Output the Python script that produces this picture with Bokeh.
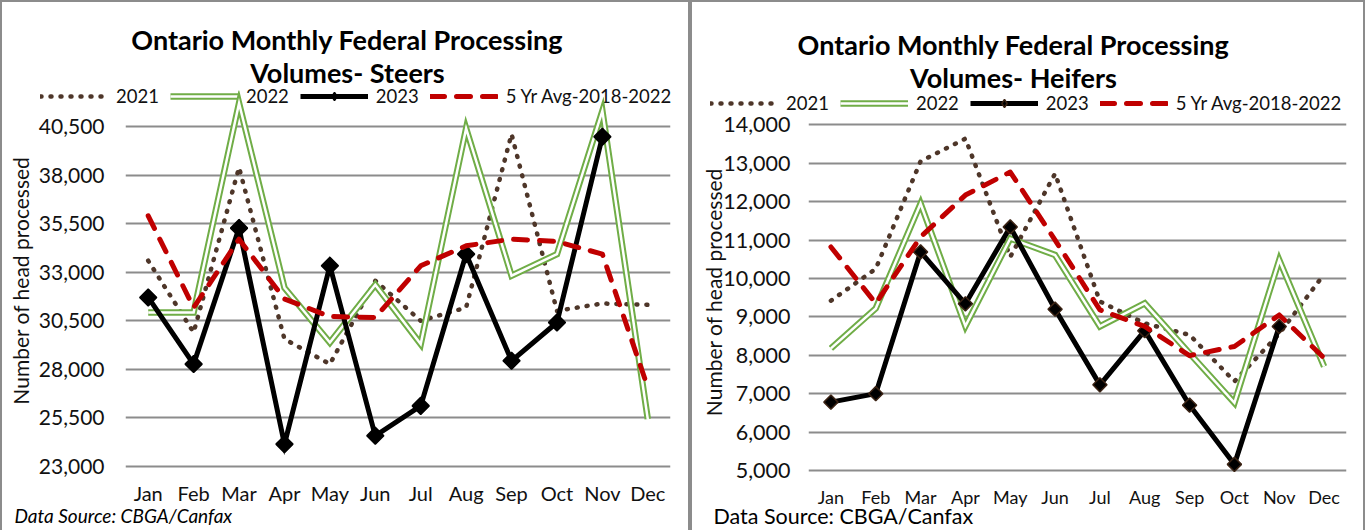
import numpy as np
from bokeh.plotting import figure
from bokeh.models import (ColumnDataSource, FactorRange, Range1d, FixedTicker,
                          NumeralTickFormatter, Legend, LegendItem, Label)
from bokeh.embed import file_html
from bokeh.resources import INLINE

# ---------------- data ----------------
months = ["Jan", "Feb", "Mar", "Apr", "May", "Jun",
          "Jul", "Aug", "Sep", "Oct", "Nov", "Dec"]

steers_2021 = [33590, 29900, 38390, 29560, 28270, 32560, 30500, 31180, 40110, 31010, 31390, 31320]
steers_2022 = [30930, 30930, 41700, 32200, 29380, 32350, 29300, 40400, 32820, 33930, 41300, 25440]
steers_2023 = [31700, 28270, 35270, 24150, 33330, 24580, 26120, 33930, 28440, 30410, 39970, None]
steers_avg = [35900, 31180, 34700, 31620, 30720, 30670, 33330, 34360, 34700, 34580, 33930, 27070]
steers_ticks = [23000, 25500, 28000, 30500, 33000, 35500, 38000, 40500]

heifers_2021 = [9420, 10250, 13050, 13640, 10560, 12730, 9400, 8830, 8530, 7320, 8560, 10110]
heifers_2022 = [8180, 9220, 11950, 8760, 11040, 10610, 8750, 9350, 8050, 6760, 10480, 7710]
heifers_2023 = [6780, 7000, 10690, 9340, 11340, 9200, 7230, 8640, 6700, 5160, 8750, None]
heifers_avg = [10820, 9350, 11080, 12170, 12770, 11000, 9180, 8750, 7990, 8230, 9050, 7930]
heifers_ticks = [5000, 6000, 7000, 8000, 9000, 10000, 11000, 12000, 13000, 14000]

series_labels = ["2021", "2022", "2023", "5 Yr Avg-2018-2022"]

BROWN = "#4E3629"
GREEN = "#70AD47"
RED = "#C00000"
GRID = "#8c8c8c"
FONT = "Lato"
TEXT = "#111111"
PANEL_H = 530


def transparent(fig):
    fig.border_fill_alpha = 0
    fig.background_fill_alpha = 0
    fig.outline_line_color = None


def draw_series(p, src, msize, mline, marker="square", angle=np.pi / 4):
    r21 = p.line("m", "a", source=src, line_color=BROWN, line_width=4.5,
                 line_dash="1 9", line_cap="round", line_join="round")
    r22o = p.line("m", "b", source=src, line_color=GREEN, line_width=6.5,
                  line_join="miter")
    r22i = p.line("m", "b", source=src, line_color="white", line_width=2.5,
                  line_join="miter")
    r23 = p.line("m", "c", source=src, line_color="black", line_width=5,
                 line_join="miter")
    r23m = p.scatter("m", "c", source=src, marker=marker, angle=angle,
                     size=msize, fill_color="black", line_color=mline, line_width=1.5)
    ravg = p.line("m", "d", source=src, line_color=RED, line_width=5,
                  line_dash="14 12", line_cap="round", line_join="round")
    return [[r21], [r22o, r22i], [r23, r23m], [ravg]]


def panel(left, width, main_h, mleft, mright, mtop, mbottom, yr, ticks, data,
          titles, legend_xy, src_text, src_pos, src_style, src_size,
          tick_size, month_size, x_standoff, y_standoff, ylabel_standoff,
          msize, mline):
    pos = {"position": "absolute", "left": f"{left}px", "top": "0px"}

    # ---- backdrop: border, titles, legend, source note ----
    deco = figure(width=width, height=PANEL_H, x_range=Range1d(0, width),
                  y_range=Range1d(PANEL_H, 0), output_backend="svg",
                  toolbar_location=None, title=None, min_border=0,
                  x_axis_location=None, y_axis_location=None)
    transparent(deco)
    deco.grid.visible = False
    deco.styles = dict(pos, **{
        "background-color": "white",
        "box-shadow": f"inset 2px 0 0 0 {GRID}, inset -2px 0 0 0 {GRID}, inset 0 2px 0 0 {GRID}"})
    for (txt, x, y) in titles:
        deco.add_layout(Label(x=x, y=y, text=txt, text_font=FONT,
                              text_font_style="bold", text_font_size="27px",
                              text_align="center", text_baseline="middle",
                              text_color="black"))
    # legend swatches come from off-canvas copies of the series styles
    off = ColumnDataSource(dict(m=[-500], a=[-500], b=[-500], c=[-500], d=[-500]))
    groups = draw_series(deco, off, msize + 3, mline, marker="diamond", angle=0)
    legend = Legend(items=[LegendItem(label=lab, renderers=rs)
                           for lab, rs in zip(series_labels, groups)],
                    orientation="horizontal", location=legend_xy)
    legend.background_fill_alpha = 0
    legend.border_line_color = None
    legend.padding = 0
    legend.margin = 0
    legend.spacing = 11
    legend.glyph_width = 68
    legend.glyph_height = 20
    legend.label_height = 20
    legend.label_standoff = 8
    legend.label_text_font = FONT
    legend.label_text_font_size = "18.5px"
    legend.label_text_color = TEXT
    deco.add_layout(legend, "center")
    deco.add_layout(Label(x=src_pos[0], y=src_pos[1], text=src_text, text_font=FONT,
                          text_font_style=src_style, text_font_size=f"{src_size}px",
                          text_align="left", text_baseline="middle",
                          text_color="black"))

    # ---- main chart, laid over the backdrop ----
    p = figure(width=width, height=main_h, x_range=FactorRange(*months),
               y_range=Range1d(*yr), output_backend="svg", toolbar_location=None,
               title=None, min_border_left=mleft, min_border_right=mright,
               min_border_top=mtop, min_border_bottom=mbottom)
    transparent(p)
    p.styles = dict(pos)
    p.xgrid.visible = False
    p.ygrid.grid_line_color = GRID
    p.ygrid.grid_line_width = 2
    p.yaxis.ticker = FixedTicker(ticks=ticks)
    p.yaxis.formatter = NumeralTickFormatter(format="0,0")
    for ax in (p.xaxis, p.yaxis):
        ax.axis_line_color = None
        ax.major_tick_line_color = None
        ax.minor_tick_line_color = None
        ax.major_tick_out = 0
        ax.major_tick_in = 0
        ax.minor_tick_out = 0
        ax.major_label_text_font = FONT
        ax.major_label_text_color = TEXT
    p.yaxis.major_label_text_font_size = f"{tick_size}px"
    p.xaxis.major_label_text_font_size = f"{month_size}px"
    p.xaxis.major_label_standoff = x_standoff
    p.yaxis.major_label_standoff = y_standoff
    p.yaxis.axis_label = "Number of head processed"
    p.yaxis.axis_label_text_font = FONT
    p.yaxis.axis_label_text_font_style = "normal"
    p.yaxis.axis_label_text_font_size = "21px"
    p.yaxis.axis_label_text_color = TEXT
    p.yaxis.axis_label_standoff = ylabel_standoff

    d2021, d2022, d2023, davg = [np.array(v, dtype=float) for v in data]
    src = ColumnDataSource(dict(m=months, a=d2021, b=d2022, c=d2023, d=davg))
    draw_series(p, src, msize, mline)
    return [deco, p]


left_roots = panel(0, 690, 510, 125, 20, 90, 40, (22794, 42352), steers_ticks,
                   [steers_2021, steers_2022, steers_2023, steers_avg],
                   [("Ontario Monthly Federal  Processing", 350, 39),
                    ("Volumes- Steers", 347, 71.5)],
                   (40, PANEL_H - 107), "Data Source: CBGA/Canfax", (14, 515),
                   "italic", 19,
                   21, 20, 10, 21, 3, 12, "black")

right_roots = panel(690, 675, 510, 118, 19, 110, 36, (4922, 14372), heifers_ticks,
                    [heifers_2021, heifers_2022, heifers_2023, heifers_avg],
                    [("Ontario Monthly Federal Processing", 323, 44),
                     ("Volumes- Heifers", 323, 76.5)],
                    (20, PANEL_H - 114), "Data Source: CBGA/Canfax", (23, 515),
                    "normal", 21.5,
                    21.5, 18, 12, 18, -6, 10, "#3b2314")

roots = left_roots + right_roots
open("out.html", "w").write(file_html(roots, INLINE))
